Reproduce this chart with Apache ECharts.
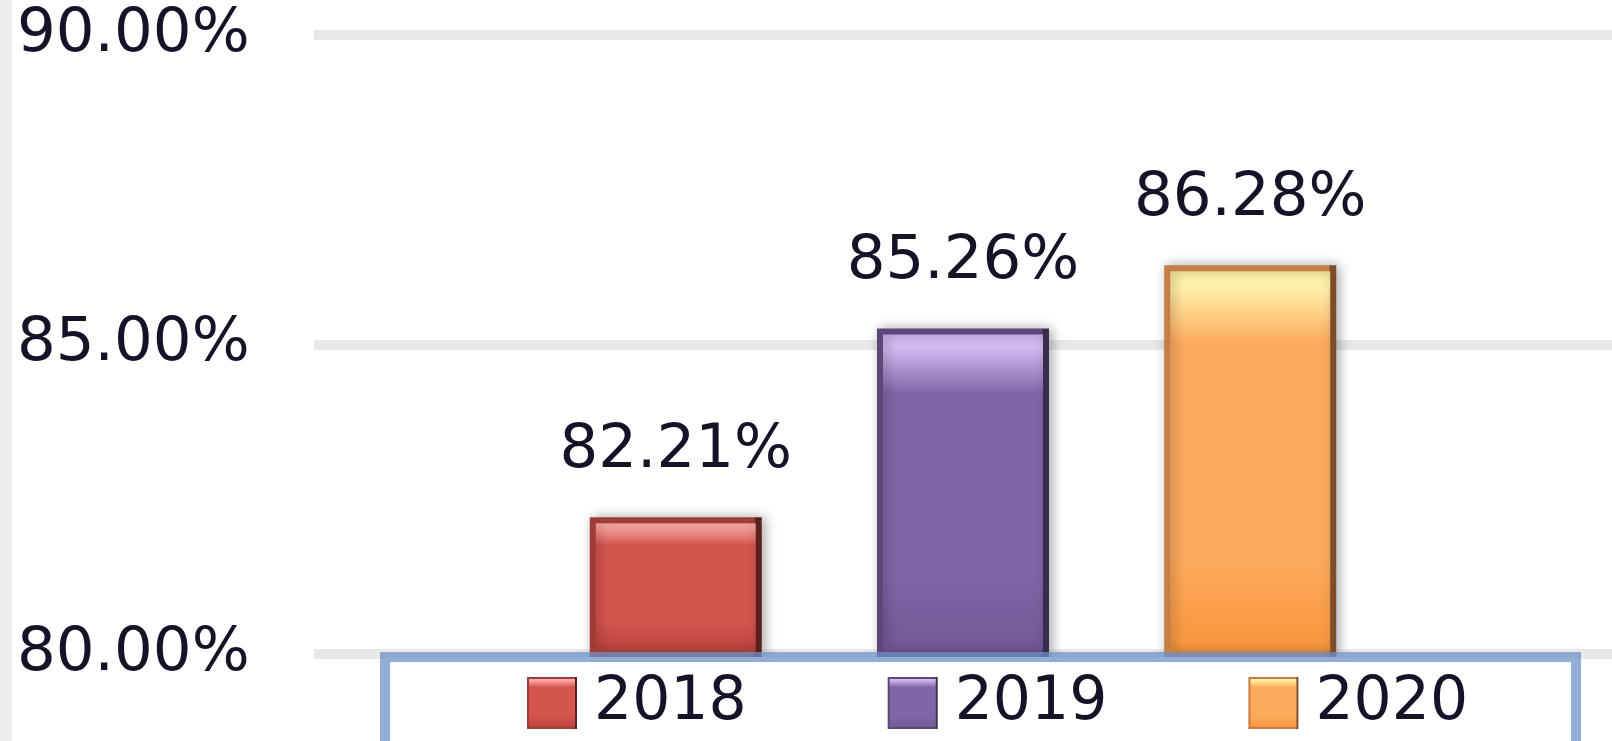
<!DOCTYPE html>
<html>
<head>
<meta charset="utf-8">
<script src="https://cdn.jsdelivr.net/npm/echarts@6/dist/echarts.min.js"></script>
<style>
  html, body { margin: 0; padding: 0; background: #fff; }
  #chart { width: 1612px; height: 741px; }
</style>
</head>
<body>
<div id="chart"></div>
<script>
// 数据
const years = ['2018', '2019', '2020'];
const rates = [82.21, 85.26, 86.28];
const yMin = 80;
const yMax = 90;
const yStep = 5;

// 每个年份的柱子配色: [顶部高光, 主色, 底色, 左边框, 右边框]
const palette = [
    ['#ffaca6', '#d4544e', '#b8403b', '#a03c38', '#5c201e'],
    ['#d2b8f0', '#8164a6', '#735796', '#5e4679', '#3a2c4c'],
    ['#fff0a8', '#fda95c', '#f7953a', '#c67c45', '#7e4d28']
];

const FONT = 'DejaVu Sans';

function barStyle(c) {
    return {
        color: new echarts.graphic.LinearGradient(0, 0, 0, 1, [
            { offset: 0, color: c[0] },
            { offset: 0.06, color: c[0] },
            { offset: 0.2, color: c[1] },
            { offset: 0.75, color: c[1] },
            { offset: 1, color: c[2] }
        ]),
        borderColor: new echarts.graphic.LinearGradient(0, 0, 1, 0, [
            { offset: 0, color: c[3] },
            { offset: 0.955, color: c[3] },
            { offset: 0.965, color: c[4] },
            { offset: 1, color: c[4] }
        ]),
        borderWidth: 6,
        shadowColor: 'rgba(0, 0, 0, 0.28)',
        shadowBlur: 12,
        shadowOffsetX: 3
    };
}

const chart = echarts.init(document.getElementById('chart'), null, { renderer: 'canvas' });

const series = years.map((y, i) => ({
    name: y,
    type: 'bar',
    data: [rates[i]],
    barWidth: 172,
    barGap: '67%',
    itemStyle: barStyle(palette[i]),
    label: {
        show: true,
        position: 'top',
        distance: 36,
        fontFamily: FONT,
        fontSize: 61,
        color: '#141428',
        formatter: p => p.value.toFixed(2) + '%'
    }
}));

const option = {
    animation: false,
    backgroundColor: '#fff',
    grid: { left: 314, right: 0, top: 35, bottom: 87 },
    xAxis: {
        type: 'category',
        data: [''],
        axisLine: { show: false },
        axisTick: { show: false },
        axisLabel: { show: false }
    },
    yAxis: {
        type: 'value',
        min: yMin,
        max: yMax,
        interval: yStep,
        axisLine: { show: false },
        axisTick: { show: false },
        axisLabel: {
            align: 'left',
            margin: 297,
            fontFamily: FONT,
            fontSize: 61,
            color: '#141428',
            padding: [14, 0, 0, 0],
            formatter: v => v.toFixed(2) + '%'
        },
        splitLine: { lineStyle: { color: '#e8e8e8', width: 10 } }
    },
    legend: {
        data: years,
        left: 385,
        top: 657,
        orient: 'horizontal',
        icon: 'rect',
        itemWidth: 48,
        itemHeight: 50,
        itemGap: 141,
        padding: [16, 108, 50, 142],
        backgroundColor: '#fff',
        borderColor: 'rgba(110, 145, 200, 0.75)',
        borderWidth: 10,
        textStyle: {
            fontFamily: FONT,
            fontSize: 60,
            color: '#141428',
            padding: [0, 0, 0, 13]
        }
    },
    graphic: [{
        type: 'rect',
        left: 0,
        top: 0,
        shape: { width: 12, height: 741 },
        style: { fill: '#ededed' }
    }],
    series: series
};

chart.setOption(option);
</script>
</body>
</html>
